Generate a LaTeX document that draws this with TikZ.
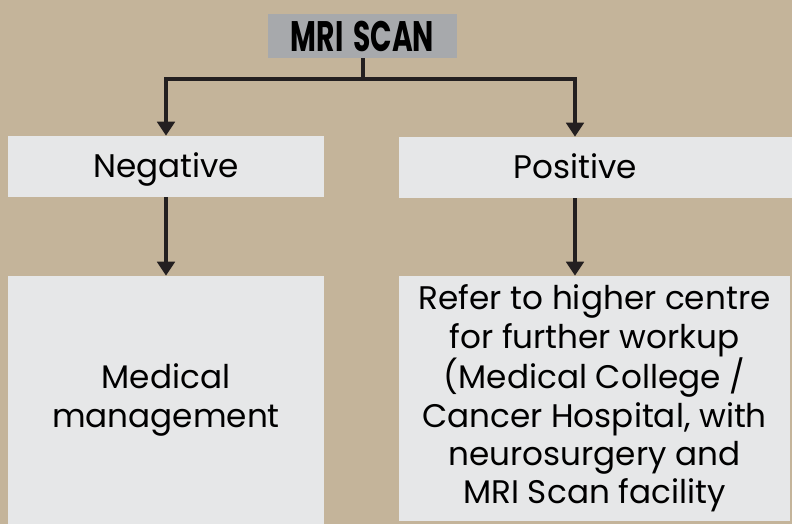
\documentclass[tikz,border=0pt]{standalone}
\usepackage{fontspec}
\setmainfont{Poppins}
\usepackage{tikz}
\usetikzlibrary{arrows.meta, positioning}

\definecolor{tanbg}{RGB}{196,180,154}
\definecolor{boxgray}{RGB}{230,231,232}
\definecolor{headgray}{RGB}{167,169,172}
\definecolor{linedark}{RGB}{35,31,32}

\begin{document}
\begin{tikzpicture}[x=0.75pt,y=-0.75pt]
    \tikzset{
        head node/.style={fill=headgray, minimum width=189*0.75pt, minimum height=44*0.75pt, inner sep=0pt},
        step box/.style={fill=boxgray, inner sep=0pt, font=\fontsize{24.5}{28.7}\selectfont},
        one line/.style={text height=17pt, text depth=0pt},
        flow arrow/.style={draw=linedark, line width=3pt, -{Triangle[width=13pt,length=10.5pt]}}
      }
% background
\fill[tanbg] (0,0) rectangle (792,524);
\useasboundingbox (0,0) rectangle (792,524);

\node[head node] (mri) at (362.5,36) {\fontsize{32}{34}\selectfont\scalebox{0.66}[1]{\bfseries MRI\hspace{0.35em}SCAN}};

\node[step box, one line, minimum width=316*0.75pt, minimum height=61*0.75pt] (neg) at (166,166.5) {Negative};
\node[step box, minimum width=393*0.75pt, minimum height=61*0.75pt] (pos) at (595.5,167.5) {};
\node[font=\fontsize{24.5}{28.7}\selectfont, inner sep=0pt, one line] (postxt) at (575,167.5) {Positive};

\node[step box, minimum width=316*0.75pt, minimum height=248*0.75pt, align=center] (med) at (166,400) {Medical\\management};
\node[step box, minimum width=391*0.75pt, minimum height=245*0.75pt, align=center] (refer) at (594.5,398.5)
    {Refer to higher centre\\for further workup\\(Medical College /\\Cancer Hospital, with\\neurosurgery and\\MRI Scan facility};

% connectors
\draw[flow arrow] (mri.south) -- ++(0,21) -| (neg.north);
\draw[flow arrow] (mri.south) -- ++(0,21) -| (postxt |- pos.north);
\draw[flow arrow] (neg.south) -- (med.north);
\draw[flow arrow] (postxt |- pos.south) -- (postxt |- refer.north);
\end{tikzpicture}
\end{document}
